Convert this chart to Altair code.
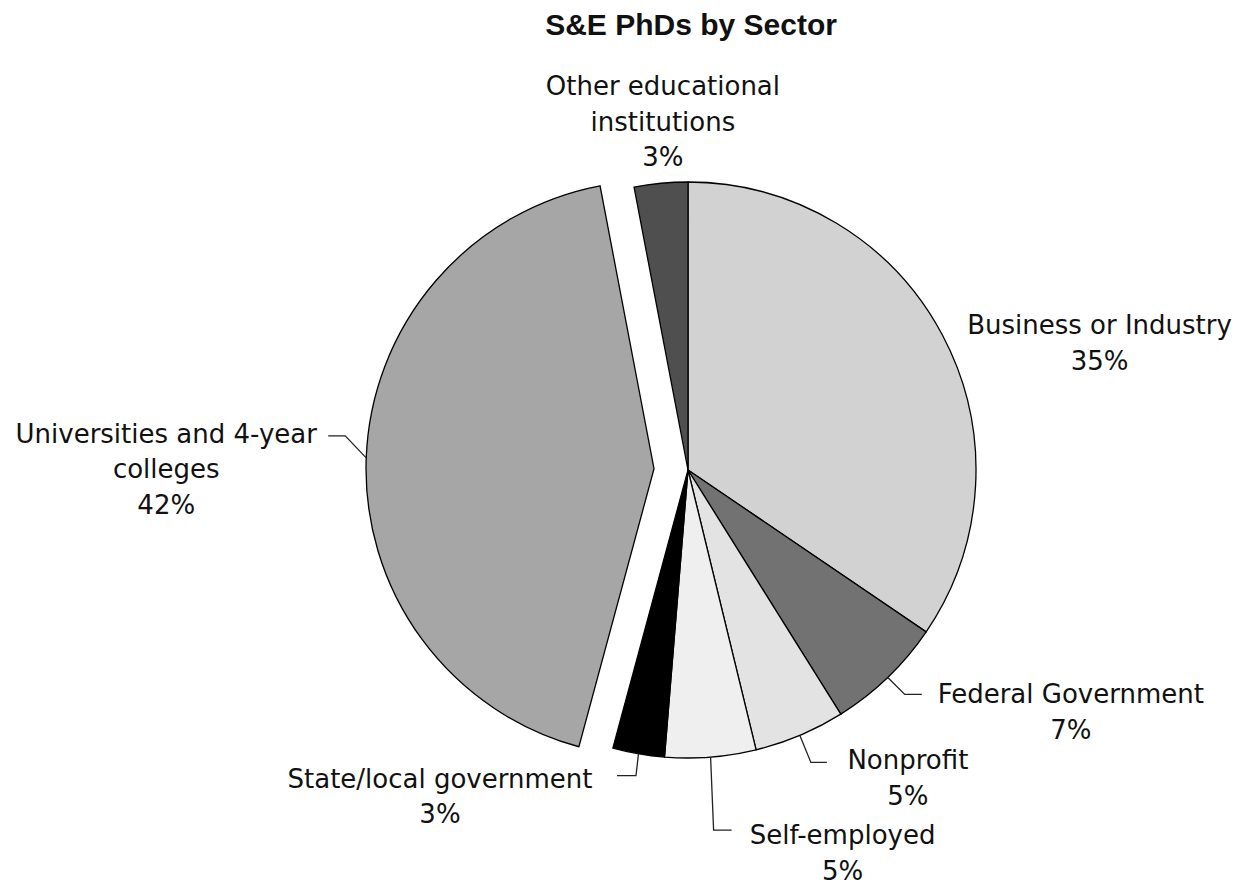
import math
import altair as alt
import pandas as pd

# ---------------- data ----------------
categories = [
    "Business or Industry",
    "Federal Government",
    "Nonprofit",
    "Self-employed",
    "State/local government",
    "Universities and 4-year colleges",
    "Other educational institutions",
]
values = [34.5, 6.6, 5.1, 5.1, 2.9, 42.8, 3.0]
pct_labels = ["35%", "7%", "5%", "5%", "3%", "42%", "3%"]
label_lines = [
    ["Business or Industry"],
    ["Federal Government"],
    ["Nonprofit"],
    ["Self-employed"],
    ["State/local government"],
    ["Universities and 4-year", "colleges"],
    ["Other educational", "institutions"],
]
exploded = [False, False, False, False, False, True, False]
title_text = "S&E PhDs by Sector"

# ---------------- style / layout ----------------
fills = ["#d2d2d2", "#727272", "#e3e3e3", "#efefef", "#000000", "#a6a6a6", "#4f4f4f"]
M = 8                      # page margin
W, H = 1220, 860           # plot area
CX, CY = 688, 470          # pie centre (page px)
R = 288                    # pie radius
EXPLODE = 34               # pull-out distance
LINE_H = 35.5              # label line spacing
# leader: (knee dx, knee dy, horizontal length) relative to edge point; None = no leader
leaders = [None, (17, 17, 17), (11, 27, 16), (3, 73, 18), (-2.5, 22, -19), (-21, -22, -17), None]
# label offset relative to leader end (or edge point when no leader)
label_off = [(157, -9), (149, 1), (81, -1), (111, 6), (-177, 4), (-162, -1), (2, -96)]

# ---------------- geometry derived from values ----------------
arc_rows, lead_rows, text_rows = [], [], []
cum = 0.0
for i, (cat, v) in enumerate(zip(categories, values)):
    start, end = cum, cum + v
    cum = end
    mid = (start + end) / 2 / 100 * 2 * math.pi
    s, c = math.sin(mid), math.cos(mid)
    e = EXPLODE if exploded[i] else 0
    cx, cy = CX + e * s, CY - e * c
    arc_rows.append(dict(category=cat, start=start, end=end, fill=fills[i], cx=cx, cy=cy))
    px, py = cx + R * s, cy - R * c
    if leaders[i] is not None:
        kdx, kdy, hl = leaders[i]
        kx, ky = px + kdx, py + kdy
        ex, ey = kx + hl, ky
        for o, (xx, yy) in enumerate([(px, py), (kx, ky), (ex, ey)]):
            lead_rows.append(dict(id=cat, ord=o, x=xx, y=yy))
        ax, ay = ex, ey
    else:
        ax, ay = px, py
    lx, ly = ax + label_off[i][0], ay + label_off[i][1]
    for j, t in enumerate(label_lines[i] + [pct_labels[i]]):
        text_rows.append(dict(text=t, x=lx, y=ly + j * LINE_H))

arc_df = pd.DataFrame(arc_rows)
lead_df = pd.DataFrame(lead_rows)
text_df = pd.DataFrame(text_rows)
title_df = pd.DataFrame([dict(text=title_text, x=CX + 3, y=26)])

xs = alt.Scale(domain=[M, M + W], nice=False, zero=False)
ys = alt.Scale(domain=[M, M + H], nice=False, zero=False, reverse=True)

arcs = alt.Chart(arc_df).mark_arc(radius=R, stroke="black", strokeWidth=1.3).encode(
    x=alt.X("cx:Q", scale=xs, axis=None),
    y=alt.Y("cy:Q", scale=ys, axis=None),
    theta=alt.Theta("start:Q", scale=alt.Scale(domain=[0, 100])),
    theta2="end:Q",
    color=alt.Color("fill:N", scale=None),
    tooltip=["category:N"],
)

lines = alt.Chart(lead_df).mark_line(color="#222222", strokeWidth=1.3).encode(
    x=alt.X("x:Q", scale=xs, axis=None),
    y=alt.Y("y:Q", scale=ys, axis=None),
    detail="id:N",
    order="ord:Q",
)

labels = alt.Chart(text_df).mark_text(
    font="DejaVu Sans", fontSize=26, align="center", baseline="middle", color="#111111"
).encode(
    x=alt.X("x:Q", scale=xs, axis=None),
    y=alt.Y("y:Q", scale=ys, axis=None),
    text="text:N",
)

title = alt.Chart(title_df).mark_text(
    font="Liberation Sans", fontSize=30, fontWeight="bold", align="center", baseline="middle", color="#111111"
).encode(
    x=alt.X("x:Q", scale=xs, axis=None),
    y=alt.Y("y:Q", scale=ys, axis=None),
    text="text:N",
)

chart = alt.layer(arcs, lines, labels, title).properties(
    width=W, height=H, padding=0, background="white"
).configure_view(stroke=None)

chart.save("out.html", embed_options={"renderer": "svg", "actions": False})
